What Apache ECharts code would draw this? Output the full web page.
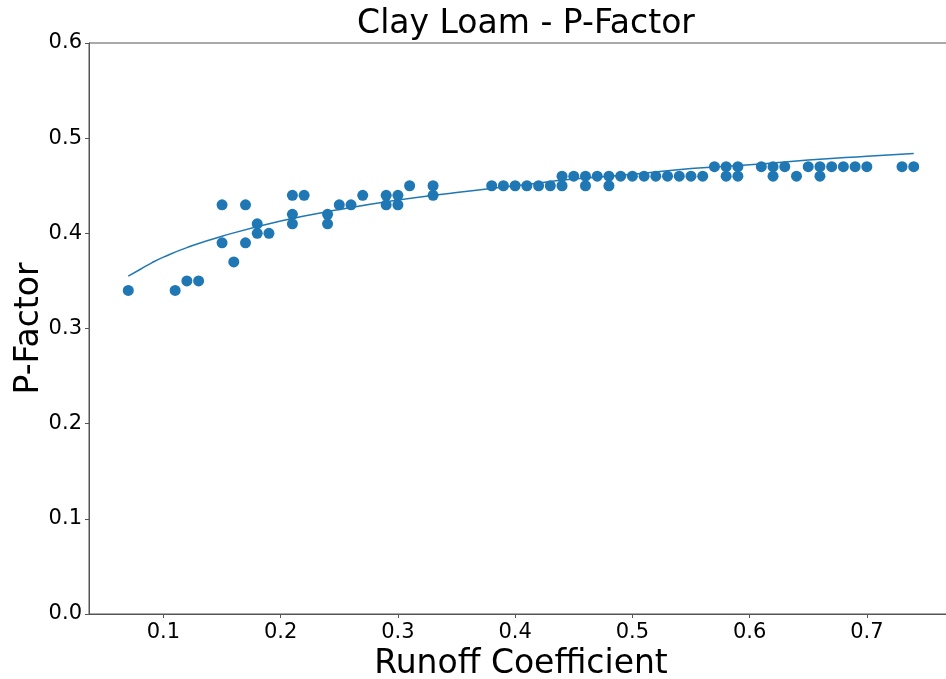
<!DOCTYPE html>
<html>
<head>
<meta charset="utf-8">
<script src="https://cdn.jsdelivr.net/npm/echarts@6/dist/echarts.min.js"></script>
<style>
  html, body { margin: 0; padding: 0; background: #fff; }
  #chart { width: 946px; height: 679px; }
</style>
</head>
<body>
<div id="chart"></div>
<script>
// Observed points (Runoff Coefficient, P-Factor)
const runoffX = [
  0.07, 0.11, 0.12, 0.13, 0.15, 0.15, 0.16, 0.17, 0.17, 0.18, 0.18, 0.19,
  0.21, 0.21, 0.21, 0.22, 0.24, 0.24, 0.25, 0.26, 0.27, 0.29, 0.29, 0.30, 0.30,
  0.31, 0.33, 0.33, 0.38, 0.39, 0.40, 0.41, 0.42, 0.43, 0.44, 0.44, 0.45,
  0.46, 0.46, 0.47, 0.48, 0.48, 0.49, 0.50, 0.51, 0.52, 0.53, 0.54, 0.55, 0.56,
  0.57, 0.58, 0.58, 0.59, 0.59, 0.61, 0.62, 0.62, 0.63, 0.64, 0.65, 0.66, 0.66,
  0.67, 0.68, 0.69, 0.70, 0.73, 0.74
];
const pFactorY = [
  0.34, 0.34, 0.35, 0.35, 0.43, 0.39, 0.37, 0.43, 0.39, 0.41, 0.40, 0.40,
  0.44, 0.42, 0.41, 0.44, 0.42, 0.41, 0.43, 0.43, 0.44, 0.44, 0.43, 0.44, 0.43,
  0.45, 0.45, 0.44, 0.45, 0.45, 0.45, 0.45, 0.45, 0.45, 0.46, 0.45, 0.46,
  0.46, 0.45, 0.46, 0.46, 0.45, 0.46, 0.46, 0.46, 0.46, 0.46, 0.46, 0.46, 0.46,
  0.47, 0.47, 0.46, 0.47, 0.46, 0.47, 0.47, 0.46, 0.47, 0.46, 0.47, 0.47, 0.46,
  0.47, 0.47, 0.47, 0.47, 0.47, 0.47
];
// Fitted trend curve
const curveX = [0.07, 0.08, 0.09, 0.10, 0.12, 0.15, 0.20, 0.25, 0.30, 0.35, 0.40, 0.45, 0.50, 0.55, 0.60, 0.65, 0.70, 0.74];
const curveY = [0.355, 0.362, 0.369, 0.375, 0.385, 0.397, 0.413, 0.425, 0.435, 0.443, 0.450, 0.457, 0.462, 0.468, 0.472, 0.477, 0.481, 0.484];
// Tick labels
const xTicks = [0.1, 0.2, 0.3, 0.4, 0.5, 0.6, 0.7];

const FONT = 'DejaVu Sans';
const scatterData = runoffX.map((x, i) => [x, pFactorY[i]]);
const curveData = curveX.map((x, i) => [x, curveY[i]]);

const chart = echarts.init(document.getElementById('chart'), null, { renderer: 'canvas' });
chart.setOption({
  animation: false,
  backgroundColor: '#ffffff',
  title: {
    text: 'Clay Loam - P-Factor',
    left: 521, top: 3, textAlign: 'center',
    textStyle: { fontFamily: FONT, fontSize: 33, fontWeight: 'normal', color: '#000' }
  },
  grid: {
    left: 89, top: 43, right: -7, bottom: 65,
    containLabel: false, outerBoundsMode: 'none',
    show: true, borderColor: '#555', borderWidth: 1, backgroundColor: 'transparent'
  },
  xAxis: {
    type: 'value',
    min: 0.0365, max: 0.7735,
    name: 'Runoff Coefficient', nameLocation: 'middle', nameGap: 34, nameMoveOverlap: false,
    nameTextStyle: { fontFamily: FONT, fontSize: 33, color: '#000' },
    axisLine: { show: true, onZero: false, lineStyle: { color: '#555', width: 1 } },
    axisTick: { show: true, length: 4, customValues: xTicks, lineStyle: { color: '#555' } },
    axisLabel: {
      customValues: xTicks, margin: 8,
      fontFamily: FONT, fontSize: 21, color: '#000',
      formatter: v => v.toFixed(1)
    },
    splitLine: { show: false }
  },
  yAxis: {
    type: 'value',
    min: 0, max: 0.6, interval: 0.1,
    name: 'P-Factor', nameLocation: 'middle', nameGap: 43, nameRotate: 90, nameMoveOverlap: false,
    nameTextStyle: { fontFamily: FONT, fontSize: 33, color: '#000' },
    axisLine: { show: true, onZero: false, lineStyle: { color: '#555', width: 1 } },
    axisTick: { show: true, length: 4, lineStyle: { color: '#555' } },
    axisLabel: {
      margin: 7, fontFamily: FONT, fontSize: 21, color: '#000',
      formatter: v => v.toFixed(1)
    },
    splitLine: { show: false }
  },
  series: [
    {
      type: 'scatter',
      data: scatterData,
      symbol: 'circle', symbolSize: 11,
      itemStyle: { color: '#1f77b4', opacity: 1 },
      z: 2
    },
    {
      type: 'line',
      data: curveData,
      smooth: true, showSymbol: false,
      lineStyle: { color: '#1f77b4', width: 1.5 },
      z: 3
    }
  ]
});
</script>
</body>
</html>
